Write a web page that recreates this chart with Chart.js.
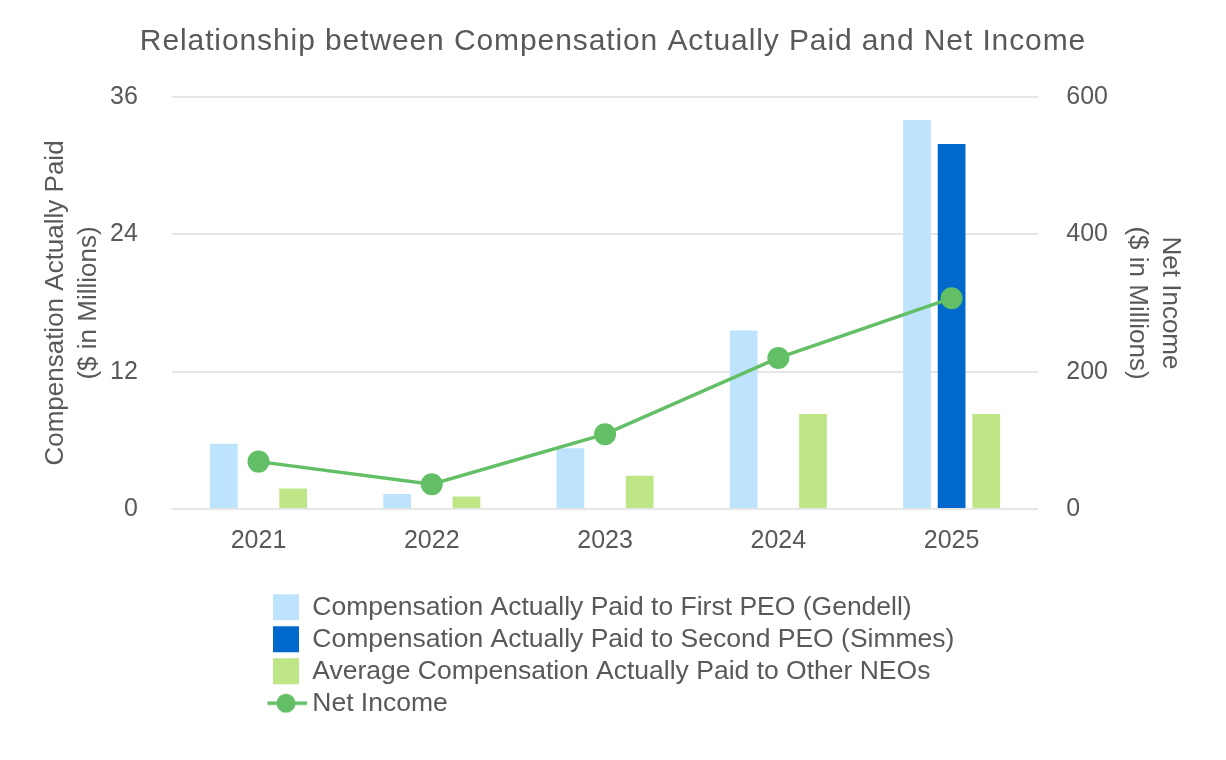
<!DOCTYPE html>
<html>
<head>
<meta charset="utf-8">
<script src="https://cdn.jsdelivr.net/npm/chart.js@4/dist/chart.umd.min.js"></script>
<style>
  html, body { margin: 0; padding: 0; background: #ffffff; }
  #wrap { width: 1226px; height: 760px; }
</style>
</head>
<body>
<div id="wrap"><canvas id="c" width="1226" height="760"></canvas></div>
<script>
// ---- data ----
const categories = ['2021', '2022', '2023', '2024', '2025'];
const firstPeoCap = [5.7, 1.3, 5.3, 15.6, 34.0];
const secondPeoCap = [null, null, null, null, 31.9];
const otherNeoCap = [1.8, 1.1, 2.9, 8.3, 8.3];
const netIncome = [69, 36, 109, 220, 307];

const seriesNames = [
  'Compensation Actually Paid to First PEO (Gendell)',
  'Compensation Actually Paid to Second PEO (Simmes)',
  'Average Compensation Actually Paid to Other NEOs',
  'Net Income'
];
const chartTitle = 'Relationship between Compensation Actually Paid and Net Income';
const leftAxisTitle = ['Compensation Actually Paid', '($ in Millions)'];
const rightAxisTitle = ['Net Income', '($ in Millions)'];

// ---- style ----
const FONT = "'Liberation Sans', Arial, Helvetica, sans-serif";
const TEXT = '#595959';
const C_FIRST = '#BEE3FD';
const C_SECOND = '#0069CB';
const C_OTHER = '#BEE686';
const C_NET = '#62BF65';
const TITLE_LETTER_SPACING = '0.9px';

// legend symbol for the line series: a short line with a dot
const lineSymbol = document.createElement('canvas');
lineSymbol.width = 42; lineSymbol.height = 22;
(function () {
  const g = lineSymbol.getContext('2d');
  g.strokeStyle = C_NET; g.lineWidth = 3.5;
  g.beginPath(); g.moveTo(0, 11); g.lineTo(42, 11); g.stroke();
  g.fillStyle = C_NET;
  g.beginPath(); g.arc(21, 11, 9.5, 0, Math.PI * 2); g.fill();
})();

const LEGEND_LEFT = 267.5;
const LEGEND_TOP = 588.5;
const LEGEND_WIDTH = 720;

// tick padding is counted twice by Chart.js when sizing an axis; count it once
function singlePadWidth(scale) { scale.width -= scale.options.ticks.padding; }
function singlePadHeight(scale) { scale.height -= scale.options.ticks.padding; }

const layoutTweaks = {
  id: 'layoutTweaks',
  beforeLayout(chart) {
    const lg = chart.legend;
    if (lg && !lg.__rowsPatched) {
      const fitRows = lg._fitRows;
      lg._fitRows = function (...args) {
        const saved = this.maxWidth;
        this.maxWidth = LEGEND_WIDTH;
        const h = fitRows.apply(this, args);
        this.maxWidth = saved;
        return h;
      };
      lg.__rowsPatched = true;
    }
    const tb = chart.titleBlock;
    if (tb && !tb.__lsPatched) {
      const draw = tb.draw;
      tb.draw = function (...args) {
        const ctx = this.ctx;
        ctx.save();
        if ('letterSpacing' in ctx) ctx.letterSpacing = TITLE_LETTER_SPACING;
        draw.apply(this, args);
        ctx.restore();
      };
      tb.__lsPatched = true;
    }
  },
  afterLayout(chart) {
    const lg = chart.legend;
    if (!lg) return;
    lg.left = LEGEND_LEFT; lg.right = LEGEND_LEFT + LEGEND_WIDTH; lg.width = LEGEND_WIDTH;
    const h = lg.height;
    lg.top = LEGEND_TOP; lg.bottom = LEGEND_TOP + h;
  }
};

new Chart(document.getElementById('c'), {
  type: 'bar',
  data: {
    labels: categories,
    datasets: [
      { label: seriesNames[0], data: firstPeoCap, backgroundColor: C_FIRST, borderWidth: 0, yAxisID: 'y', order: 2,
        categoryPercentage: 0.6, barPercentage: 0.8 },
      { label: seriesNames[1], data: secondPeoCap, backgroundColor: C_SECOND, borderWidth: 0, yAxisID: 'y', order: 2,
        categoryPercentage: 0.6, barPercentage: 0.8 },
      { label: seriesNames[2], data: otherNeoCap, backgroundColor: C_OTHER, borderWidth: 0, yAxisID: 'y', order: 2,
        categoryPercentage: 0.6, barPercentage: 0.8 },
      { type: 'line', label: seriesNames[3], data: netIncome, yAxisID: 'y1', order: 1,
        borderColor: C_NET, backgroundColor: C_NET, borderWidth: 3.5, tension: 0,
        pointRadius: 11, pointBackgroundColor: C_NET, pointBorderWidth: 0, pointHoverRadius: 11, fill: false }
    ]
  },
  options: {
    responsive: false,
    animation: false,
    devicePixelRatio: 1,
    layout: { padding: { top: 0, left: 30, right: 30, bottom: 66 } },
    plugins: {
      tooltip: { enabled: false },
      title: {
        display: true, text: chartTitle, color: TEXT,
        font: { family: FONT, size: 30, weight: 'normal', lineHeight: 1.2 },
        padding: { top: 24, bottom: 37 }
      },
      legend: {
        display: true, position: 'bottom', align: 'start',
        labels: {
          usePointStyle: true, boxWidth: 26, boxHeight: 26, padding: 5.5,
          color: TEXT, font: { family: FONT, size: 26.5 },
          generateLabels(chart) {
            const items = Chart.defaults.plugins.legend.labels.generateLabels(chart);
            items.sort((a, b) => a.datasetIndex - b.datasetIndex);
            return items.map(it => {
              const ds = chart.data.datasets[it.datasetIndex];
              if (ds.type === 'line') {
                it.pointStyle = lineSymbol;
              } else {
                it.pointStyle = 'rect';
                it.lineWidth = 0;
              }
              it.fontColor = TEXT;
              return it;
            });
          }
        }
      }
    },
    scales: {
      x: {
        grid: { display: false, drawTicks: false },
        border: { display: false },
        ticks: { color: TEXT, font: { family: FONT, size: 25 }, padding: 17 },
        afterFit: singlePadHeight
      },
      y: {
        position: 'left', min: 0, max: 36,
        grid: { color: '#E6E6E6', lineWidth: 2, drawTicks: false },
        border: { display: false },
        ticks: { stepSize: 12, color: TEXT, font: { family: FONT, size: 25 }, padding: 34 },
        title: { display: true, text: leftAxisTitle, color: TEXT,
          font: { family: FONT, size: 26, lineHeight: 1.27 }, padding: { top: 9, bottom: 5 } },
        afterFit: singlePadWidth
      },
      y1: {
        position: 'right', min: 0, max: 600,
        grid: { display: false, drawTicks: false },
        border: { display: false },
        ticks: { stepSize: 200, color: TEXT, font: { family: FONT, size: 25 }, padding: 28 },
        title: { display: true, text: rightAxisTitle, color: TEXT,
          font: { family: FONT, size: 26, lineHeight: 1.27 }, padding: { top: 9, bottom: 13 } },
        afterFit: singlePadWidth
      }
    }
  },
  plugins: [layoutTweaks]
});
</script>
</body>
</html>
